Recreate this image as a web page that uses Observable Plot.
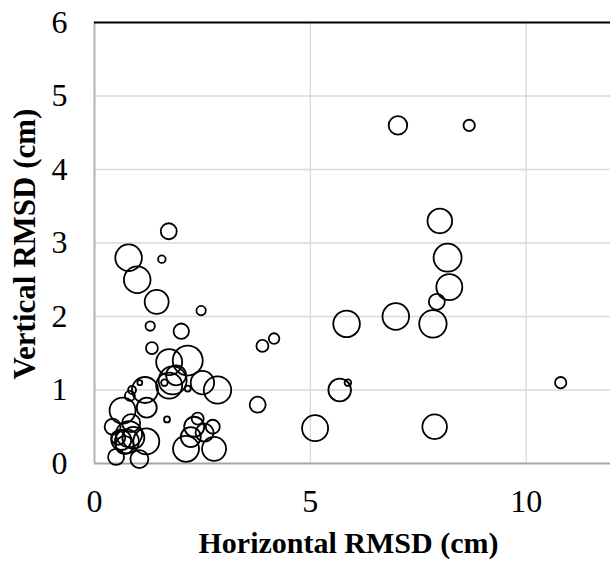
<!DOCTYPE html>
<html>
<head>
<meta charset="utf-8">
<script src="https://cdn.jsdelivr.net/npm/d3@7"></script>
<script src="https://cdn.jsdelivr.net/npm/@observablehq/plot@0.6"></script>
<style>
  html, body { margin: 0; padding: 0; background: #ffffff; }
  #chart { width: 610px; height: 561px; }
</style>
</head>
<body>
<div id="chart"></div>
<script>
// Horizontal RMSD (cm)
const horizontal = [
  7.03, 8.68, 8.00, 8.18, 8.22, 7.93, 6.98, 7.84, 5.84, 4.16,
  3.89, 5.68, 5.87, 10.80, 3.78, 5.11, 7.88, 2.85, 2.50, 2.77,
  2.74, 2.23, 2.31, 2.39, 2.12, 2.55, 1.72, 0.79, 1.56, 0.99,
  1.44, 2.47, 1.29, 2.01, 1.33, 1.73, 2.16, 1.81, 1.73, 1.62,
  1.89, 2.16, 1.17, 1.05, 0.87, 1.68, 0.65, 1.21, 0.42, 0.62,
  0.80, 0.75, 1.20, 0.50, 1.04, 0.70, 0.90, 0.85, 0.55, 0.82
];
// Vertical RMSD (cm)
const vertical = [
  4.60, 4.60, 3.30, 2.80, 2.40, 2.20, 2.00, 1.90, 1.90, 1.70,
  1.60, 1.00, 1.10, 1.10, 0.80, 0.48, 0.50, 1.00, 1.10, 0.20,
  0.50, 0.36, 0.50, 0.61, 0.20, 0.42, 3.16, 2.80, 2.78, 2.50,
  2.20, 2.08, 1.87, 1.80, 1.57, 1.38, 1.40, 1.13, 1.06, 1.10,
  1.20, 1.02, 1.00, 1.10, 1.00, 0.60, 0.72, 0.76, 0.50, 0.32,
  0.40, 0.30, 0.30, 0.09, 0.06, 0.25, 0.35, 0.55, 0.35, 0.92
];
// Bubble size (relative)
const bubbleSize = [
  86, 32, 151, 196, 169, 64, 177, 188, 177, 28,
  36, 128, 11, 32, 64, 169, 151, 188, 137, 144,
  49, 100, 100, 36, 169, 81, 64, 177, 14, 177,
  144, 22, 22, 59, 36, 169, 225, 196, 169, 11,
  100, 9, 169, 6, 16, 9, 169, 100, 64, 100,
  169, 144, 169, 64, 81, 81, 121, 81, 49, 25
];
const xTicks = [0, 5, 10];
const yTicks = [0, 1, 2, 3, 4, 5, 6];
const xTitle = "Horizontal RMSD (cm)";
const yTitle = "Vertical RMSD (cm)";

const data = horizontal.map((h, i) => ({ h, v: vertical[i], s: bubbleSize[i] }));

const serif = "'Liberation Serif', 'Times New Roman', Times, serif";

const chart = Plot.plot({
  width: 610,
  height: 561,
  marginLeft: 94,
  marginRight: -2,
  marginTop: 22,
  marginBottom: 98,
  style: { fontFamily: serif, fontSize: "32px", background: "#ffffff", color: "#000000", overflow: "visible" },
  x: { domain: [0, 12] },
  y: { domain: [0, 6] },
  r: { domain: [0, 225], range: [0, 15] },
  marks: [
    Plot.gridX([5, 10], { stroke: "#d9d9d9", strokeOpacity: 1, strokeWidth: 1.3 }),
    Plot.gridY([1, 2, 3, 4, 5], { stroke: "#d9d9d9", strokeOpacity: 1, strokeWidth: 1.3 }),
    Plot.ruleX([0], { stroke: "#b3b3b3", strokeWidth: 2 }),
    Plot.ruleY([0], { stroke: "#a6a6a6", strokeWidth: 2 }),
    Plot.ruleY([6], { stroke: "#000000", strokeWidth: 2 }),
    Plot.dot(data, { x: "h", y: "v", r: "s", stroke: "#000000", strokeWidth: 1.8, fill: "none" }),
    Plot.axisX({ ticks: xTicks, tickSize: 0, tickPadding: 26, fontSize: 32, label: null, tickFormat: d => String(d) }),
    Plot.axisY({ ticks: yTicks, tickSize: 0, tickPadding: 27, fontSize: 32, label: null, tickFormat: d => String(d) }),
    Plot.text([xTitle], { frameAnchor: "bottom", textAnchor: "middle", lineAnchor: "middle", dy: 80, dx: -5, fontSize: 30, fontWeight: "bold", fill: "#000000" }),
    Plot.text([yTitle], { frameAnchor: "left", textAnchor: "middle", lineAnchor: "middle", dx: -69, dy: 1, rotate: -90, fontSize: 31, fontWeight: "bold", fill: "#000000" })
  ]
});
document.getElementById("chart").appendChild(chart);
</script>
</body>
</html>
